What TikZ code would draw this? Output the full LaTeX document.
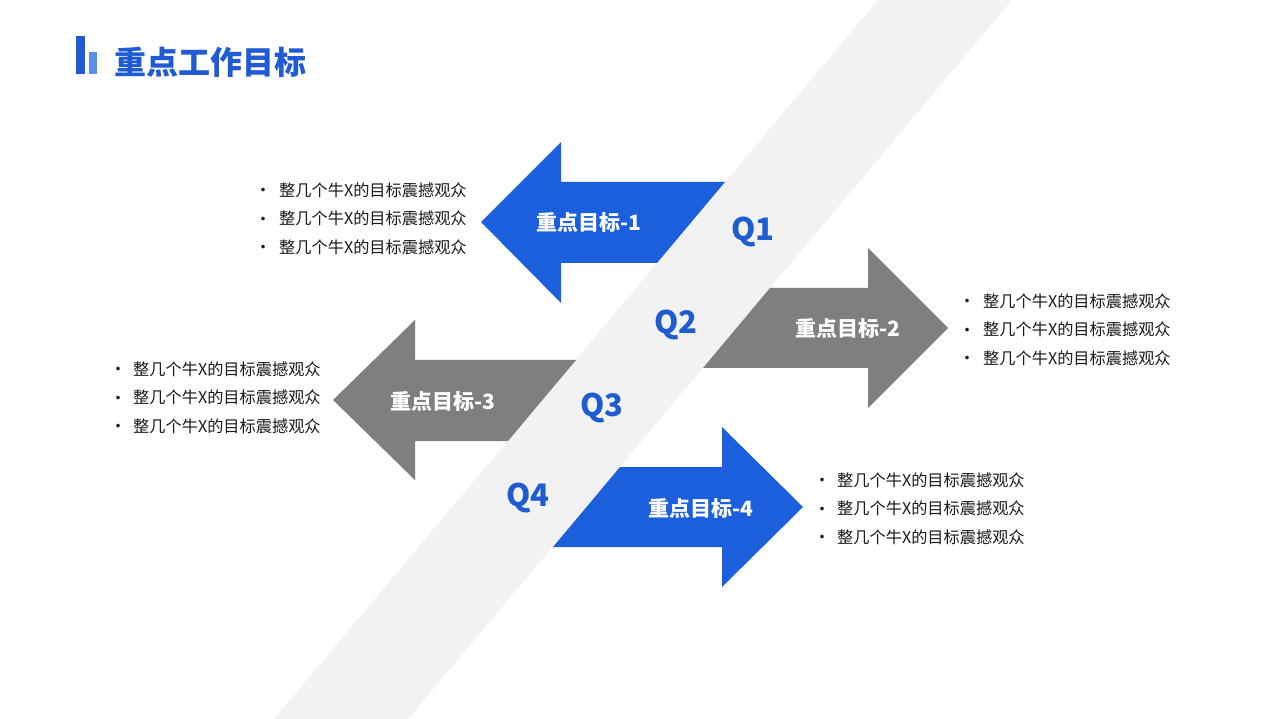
\documentclass[tikz,border=0pt]{standalone}
\usepackage{fontspec}
\setmainfont{Noto Sans CJK SC}
\definecolor{bandgray}{HTML}{F2F2F2}
\definecolor{arrowblue}{HTML}{1B5FDC}
\definecolor{arrowgray}{HTML}{7F7F7F}
\definecolor{titleblue}{HTML}{1E5BD4}
\definecolor{barlight}{HTML}{5B8FE8}
\definecolor{qblue}{HTML}{1F5CCF}
\definecolor{bodytext}{HTML}{1A1A1A}
\tikzset{
  arrowlabel/.style={text=white, font=\fontsize{21}{25}\selectfont\bfseries, inner sep=0pt},
  qlabel/.style={text=qblue, font=\fontsize{31}{36}\selectfont\bfseries, inner sep=0pt},
  bullettext/.style={text=bodytext, font=\fontsize{16.2}{19}\selectfont, anchor=west, inner sep=0pt},
  bulletdot/.style={text=bodytext, font=\fontsize{17}{19}\selectfont, inner sep=0pt},
}
\begin{document}
\begin{tikzpicture}[x=1pt,y=-1pt]
\useasboundingbox[fill=white] (0,0) rectangle (1278,719);
% diagonal band
\fill[bandgray] (878,0) -- (1012,0) -- (408,719) -- (274,719) -- cycle;
% title
\fill[titleblue] (76,36) rectangle (85,74);
\fill[barlight] (89,52) rectangle (97,74);
\node[anchor=west, inner sep=0pt, text=titleblue, font=\fontsize{32}{36}\selectfont\bfseries] (title) at (114,62) {重点工作目标};
% arrows
\fill[arrowblue] (481,222) -- (561,142) -- (561,182) -- (725,182) -- (657,263) -- (561,263) -- (561,303) -- cycle;
\fill[arrowgray] (770,288) -- (868,288) -- (868,248) -- (948,328) -- (868,408) -- (868,368) -- (703,368) -- cycle;
\fill[arrowgray] (333,400) -- (415,320) -- (415,360) -- (576,360) -- (508,441) -- (415,441) -- (415,480) -- cycle;
\fill[arrowblue] (620,467) -- (722,467) -- (722,427) -- (803,507) -- (722,587) -- (722,547) -- (553,547) -- cycle;
% arrow labels
\node[arrowlabel] (g1) at (589,223) {重点目标-1};
\node[arrowlabel] (g2) at (848,329) {重点目标-2};
\node[arrowlabel] (g3) at (443,401) {重点目标-3};
\node[arrowlabel] (g4) at (701,508) {重点目标-4};
% Q labels
\node[qlabel] (q1) at (753,232) {Q1};
\node[qlabel] (q2) at (676,325) {Q2};
\node[qlabel] (q3) at (602,408) {Q3};
\node[qlabel] (q4) at (528,498) {Q4};
% bullet lists
\foreach \grp/\bx/\tx/\ya in {a/263/279/190, b/967/983/301, c/118/133/369, d/822/837/480}{
  \foreach \i in {0,1,2}{
    \node[bulletdot] (dot-\grp\i) at (\bx,\ya+2.5+28.5*\i) {•};
    \node[bullettext] (txt-\grp\i) at (\tx,\ya+28.5*\i) {整几个牛X的目标震撼观众};
  }
}
\end{tikzpicture}
\end{document}
